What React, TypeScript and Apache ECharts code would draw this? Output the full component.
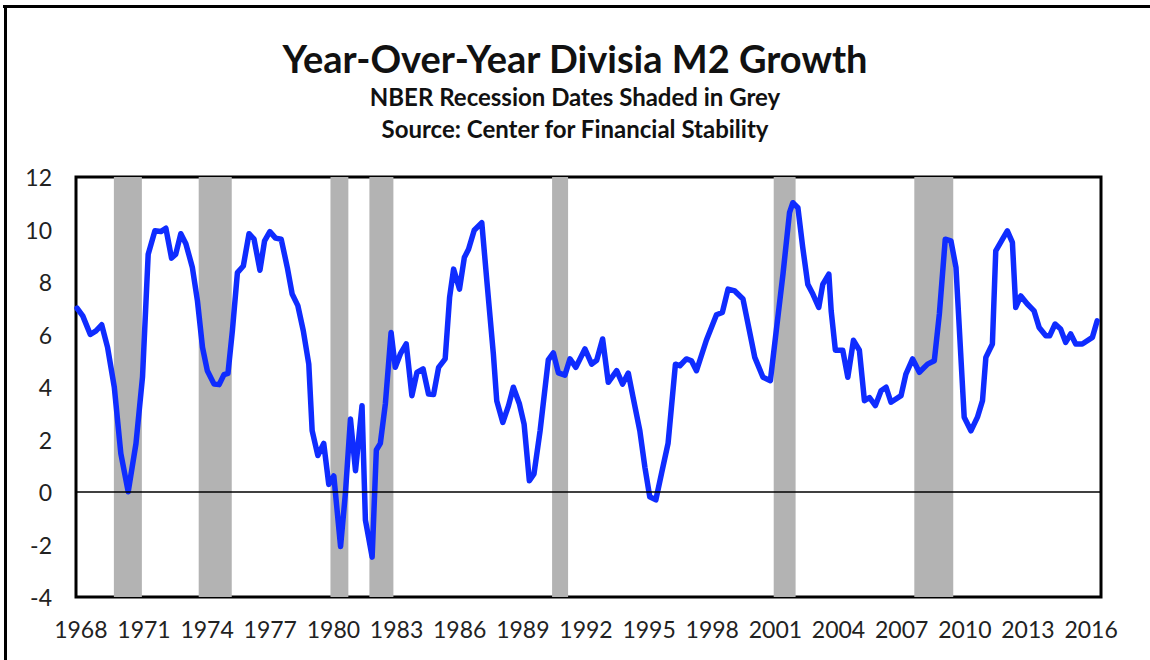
import React, { useEffect, useRef } from "react";
import * as echarts from "echarts";

const titleText = "Year-Over-Year Divisia M2 Growth";
const subtitle1 = "NBER Recession Dates Shaded in Grey";
const subtitle2 = "Source: Center for Financial Stability";

// decimal year of each vertex
const years = [
  1968.15, 1968.42, 1968.78, 1969.05, 1969.32, 1969.6, 1969.92, 1970.23, 1970.58, 1970.95,
  1971.26, 1971.53, 1971.85, 1972.13, 1972.37, 1972.64, 1972.84, 1973.08, 1973.32, 1973.63,
  1973.87, 1974.11, 1974.34, 1974.66, 1974.9, 1975.13, 1975.32, 1975.53, 1975.77, 1976.05,
  1976.32, 1976.56, 1976.84, 1977.06, 1977.31, 1977.58, 1977.85, 1978.14, 1978.37, 1978.64,
  1978.9, 1979.16, 1979.32, 1979.59, 1979.87, 1980.11, 1980.35, 1980.67, 1980.9, 1981.14,
  1981.38, 1981.69, 1981.85, 1982.17, 1982.37, 1982.56, 1982.8, 1983.07, 1983.27, 1983.51,
  1983.79, 1984.06, 1984.3, 1984.59, 1984.85, 1985.09, 1985.33, 1985.64, 1985.85, 1986.04,
  1986.32, 1986.55, 1986.75, 1987.02, 1987.38, 1987.62, 1987.93, 1988.09, 1988.38, 1988.65,
  1988.88, 1989.17, 1989.39, 1989.64, 1989.86, 1990.15, 1990.54, 1990.78, 1991.02, 1991.33,
  1991.57, 1991.85, 1992.28, 1992.6, 1992.84, 1993.12, 1993.39, 1993.79, 1994.07, 1994.34,
  1994.57, 1994.89, 1995.13, 1995.36, 1995.65, 1995.92, 1996.23, 1996.58, 1996.79, 1997.1,
  1997.34, 1997.58, 1998.05, 1998.53, 1998.81, 1999.08, 1999.4, 1999.79, 2000.03, 2000.35,
  2000.74, 2001.09, 2001.37, 2001.69, 2002.0, 2002.16, 2002.4, 2002.63, 2002.87, 2003.11,
  2003.39, 2003.58, 2003.87, 2003.98, 2004.18, 2004.53, 2004.77, 2005.04, 2005.32, 2005.56,
  2005.8, 2006.08, 2006.35, 2006.59, 2006.82, 2007.3, 2007.53, 2007.85, 2008.17, 2008.56,
  2008.88, 2009.12, 2009.4, 2009.67, 2009.91, 2010.3, 2010.62, 2010.93, 2011.17, 2011.33,
  2011.64, 2011.8, 2012.12, 2012.35, 2012.59, 2012.75, 2012.99, 2013.3, 2013.62, 2013.86,
  2014.18, 2014.36, 2014.62, 2014.88, 2015.12, 2015.36, 2015.6, 2015.91, 2016.39, 2016.62,
];

// year-over-year Divisia M2 growth, percent
const growth = [
  7.0, 6.71, 6.0, 6.14, 6.37, 5.51, 3.99, 1.47, 0.01, 1.85,
  4.38, 9.06, 9.95, 9.92, 10.05, 8.91, 9.06, 9.84, 9.46, 8.55,
  7.28, 5.51, 4.62, 4.11, 4.09, 4.47, 4.52, 6.14, 8.36, 8.61,
  9.84, 9.63, 8.45, 9.57, 9.92, 9.67, 9.63, 8.55, 7.54, 7.1,
  6.14, 4.87, 2.34, 1.39, 1.85, 0.29, 0.61, -2.08, -0.05, 2.78,
  0.81, 3.29, -1.07, -2.48, 1.6, 1.85, 3.37, 6.08, 4.75, 5.26,
  5.64, 3.67, 4.56, 4.69, 3.73, 3.71, 4.75, 5.07, 7.41, 8.49,
  7.73, 8.93, 9.25, 9.97, 10.26, 8.05, 5.26, 3.48, 2.65, 3.29,
  3.99, 3.35, 2.59, 0.43, 0.69, 2.33, 5.03, 5.3, 4.54, 4.45,
  5.07, 4.75, 5.45, 4.87, 5.02, 5.83, 4.18, 4.62, 4.11, 4.53,
  3.6, 2.33, 0.94, -0.18, -0.3, 0.71, 1.85, 4.87, 4.81, 5.07,
  5.0, 4.62, 5.78, 6.75, 6.84, 7.73, 7.66, 7.35, 6.4, 5.13,
  4.37, 4.24, 6.14, 8.3, 10.64, 11.02, 10.83, 9.31, 7.91, 7.54,
  7.03, 7.91, 8.3, 6.9, 5.4, 5.4, 4.37, 5.78, 5.4, 3.48,
  3.6, 3.29, 3.86, 3.99, 3.42, 3.67, 4.49, 5.07, 4.56, 4.87,
  5.0, 6.78, 9.63, 9.57, 8.55, 2.85, 2.33, 2.85, 3.48, 5.13,
  5.64, 9.19, 9.63, 9.95, 9.51, 7.03, 7.47, 7.16, 6.9, 6.27,
  5.95, 5.95, 6.4, 6.21, 5.7, 6.02, 5.64, 5.64, 5.89, 6.52,
];

// NBER recessions as shaded in the picture (start, end in decimal years)
const recessionStarts = [1969.9, 1973.93, 1980.19, 1982.04, 1990.72, 2001.25, 2007.93];
const recessionEnds = [1971.23, 1975.5, 1981.04, 1983.18, 1991.48, 2002.29, 2009.78];

const tickYears = [1968, 1971, 1974, 1977, 1980, 1983, 1986, 1989, 1992, 1995, 1998, 2001, 2004, 2007, 2010, 2013, 2016];
const yTicks = [-4, -2, 0, 2, 4, 6, 8, 10, 12];

const FONT = "Lato, 'Open Sans', sans-serif";

export default function App() {
  const ref = useRef<HTMLDivElement>(null);
  useEffect(() => {
    if (!ref.current) return;
    const chart = echarts.init(ref.current, null, { renderer: "svg" });
    const labelShift = 0.33;
    const option: any = {
      animation: false,
      backgroundColor: "#ffffff",
      textStyle: { fontFamily: FONT },
      title: [
        {
          text: titleText,
          left: "center",
          top: 34,
          textStyle: { fontFamily: FONT, fontSize: 38, fontWeight: "bold", color: "#111" },
        },
        {
          text: subtitle1,
          left: "center",
          top: 79,
          textStyle: { fontFamily: FONT, fontSize: 24, fontWeight: "bold", color: "#111" },
        },
        {
          text: subtitle2,
          left: "center",
          top: 111,
          textStyle: { fontFamily: FONT, fontSize: 24, fontWeight: "bold", color: "#111" },
        },
      ],
      graphic: [
        { type: "rect", shape: { x: 3, y: 5, width: 1150, height: 3 }, style: { fill: "#000" } },
        { type: "rect", shape: { x: 4, y: 5, width: 3, height: 660 }, style: { fill: "#000" } },
      ],
      grid: {
        left: 76,
        top: 177,
        right: 49,
        bottom: 63,
        show: true,
        borderColor: "#000",
        borderWidth: 3,
        backgroundColor: "transparent",
        containLabel: false,
      },
      xAxis: {
        type: "value",
        min: 1968.1,
        max: 2016.8,
        axisLine: { show: false },
        axisTick: { show: false },
        splitLine: { show: false },
        axisLabel: {
          customValues: tickYears.map((y) => y + labelShift),
          formatter: (v: number) => String(Math.round(v - labelShift)),
          fontFamily: FONT,
          fontSize: 23,
          color: "#222",
          margin: 20,
          showMinLabel: true,
          showMaxLabel: true,
        },
      },
      yAxis: {
        type: "value",
        min: yTicks[0],
        max: yTicks[yTicks.length - 1],
        interval: 2,
        axisLine: { show: false },
        axisTick: { show: false },
        splitLine: { show: false },
        axisLabel: {
          fontFamily: FONT,
          fontSize: 23,
          color: "#222",
          margin: 24,
        },
      },
      series: [
        {
          type: "line",
          data: [],
          z: 1,
          silent: true,
          markArea: {
            silent: true,
            itemStyle: { color: "#b3b3b3", opacity: 1 },
            data: recessionStarts.map((s, i) => [{ xAxis: s }, { xAxis: recessionEnds[i] }]),
          },
        },
        {
          type: "line",
          data: [],
          z: 2,
          silent: true,
          markLine: {
            silent: true,
            symbol: ["none", "none"],
            label: { show: false },
            lineStyle: { color: "#000", width: 1.5, type: "solid" },
            data: [{ yAxis: 0 }],
          },
        },
        {
          type: "line",
          z: 3,
          data: years.map((y, i) => [y, growth[i]]),
          showSymbol: false,
          symbol: "none",
          lineStyle: { color: "#0f2cff", width: 5.5, join: "round", cap: "round" },
        },
      ],
    };
    chart.setOption(option);
    return () => chart.dispose();
  }, []);
  return (
    <div
      ref={ref}
      style={{ position: "fixed", left: 0, top: 0, width: 1150, height: 660, background: "#fff" }}
    />
  );
}
